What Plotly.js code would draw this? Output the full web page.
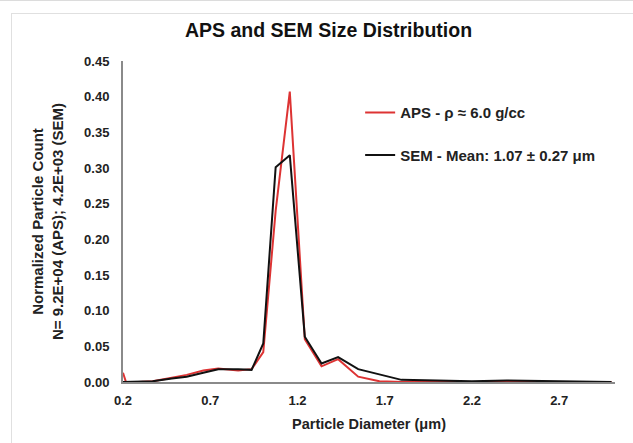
<!DOCTYPE html>
<html>
<head>
<meta charset="utf-8">
<script src="https://cdn.plot.ly/plotly-3.0.1.min.js"></script>
<style>
  html, body { margin: 0; padding: 0; background: #fff; }
  #wrap { position: relative; width: 633px; height: 443px; overflow: hidden; }
  #chart { position: absolute; left: 0; top: 0; width: 633px; height: 443px; }
  .frameTop { position: absolute; left: 0; top: 0; width: 633px; height: 1px; background: #dcdcdc; pointer-events: none; }
  .frameInner { position: absolute; left: 11px; top: 13px; width: 640px; height: 440px; border-left: 1px solid #e0e0e0; border-top: 1px solid #e0e0e0; pointer-events: none; }
</style>
</head>
<body>
<div id="wrap">
  <div id="chart"></div>
  <div class="frameTop"></div>
  <div class="frameInner"></div>
</div>
<script>
// Data
const semX = [0.2, 0.29, 0.37, 0.48, 0.565, 0.66, 0.746, 0.86, 0.937, 1.004, 1.075, 1.156, 1.242, 1.338, 1.433, 1.548, 1.796, 2.0, 2.2, 2.4, 2.6, 2.8, 3.0];
const semY = [0.0, 0.0, 0.001, 0.005, 0.0075, 0.013, 0.018, 0.018, 0.017, 0.054, 0.301, 0.318, 0.0635, 0.026, 0.035, 0.018, 0.003, 0.002, 0.001, 0.002, 0.001, 0.001, 0.0];

const apsX = [0.2, 0.217, 0.29, 0.37, 0.48, 0.565, 0.66, 0.746, 0.86, 0.937, 1.004, 1.075, 1.156, 1.242, 1.338, 1.433, 1.548, 1.67, 1.8, 2.0, 2.2, 2.4, 2.6, 2.8, 3.0];
const apsY = [0.013, 0.0, 0.0, 0.001, 0.006, 0.01, 0.016, 0.019, 0.016, 0.018, 0.042, 0.24, 0.407, 0.06, 0.022, 0.032, 0.0075, 0.001, 0.0, 0.0, 0.0, 0.0, 0.0, 0.0, 0.0];

const xTicks = [0.2, 0.7, 1.2, 1.7, 2.2, 2.7];
const yTicks = [0, 0.05, 0.1, 0.15, 0.2, 0.25, 0.3, 0.35, 0.4, 0.45];

const apsName = "APS - ρ ≈ 6.0 g/cc";
const semName = "SEM - Mean: 1.07 ± 0.27 μm";

const fontFam = "Liberation Sans, Arial, sans-serif";

const traces = [
  { x: apsX, y: apsY, type: "scatter", mode: "lines", name: apsName, legendgroup: "a",
    line: { color: "#dd3333", width: 2 } },
  { x: semX, y: semY, type: "scatter", mode: "lines", name: semName, legendgroup: "b",
    line: { color: "#111111", width: 2 } }
];

const layout = {
  width: 633, height: 443,
  margin: { l: 123, r: 18, t: 61, b: 61 },
  paper_bgcolor: "#ffffff", plot_bgcolor: "#ffffff",
  font: { family: fontFam, color: "#222" },
  title: {
    text: "APS and SEM Size Distribution",
    font: { family: fontFam, size: 19.5, weight: "bold", color: "#111" },
    x: 0.519, xref: "container", xanchor: "center",
    y: 36, yref: "container", yanchor: "middle"
  },
  xaxis: {
    range: [0.2, 3.02], tickvals: xTicks, ticktext: xTicks.map(v => v.toFixed(1)),
    showgrid: false, zeroline: false, showline: true, linecolor: "#8a8a8a", linewidth: 2,
    ticks: "", ticklabelstandoff: 5,
    tickfont: { family: fontFam, size: 13, weight: "bold", color: "#222" },
    title: { text: "Particle Diameter (μm)", standoff: 12,
      font: { family: fontFam, size: 14.5, weight: "bold", color: "#222" } }
  },
  yaxis: {
    range: [0, 0.45], tickvals: yTicks, ticktext: yTicks.map(v => v.toFixed(2)),
    showgrid: false, zeroline: false, showline: true, linecolor: "#8a8a8a", linewidth: 2,
    ticks: "", ticklabelstandoff: 9,
    tickfont: { family: fontFam, size: 13, weight: "bold", color: "#222" },
    title: { text: "Normalized Particle Count<br>N= 9.2E+04 (APS); 4.2E+03 (SEM)", standoff: 17,
      font: { family: fontFam, size: 15, weight: "bold", color: "#222" } }
  },
  showlegend: true,
  legend: {
    x: 0.482, y: 0.89, xanchor: "left", yanchor: "top",
    traceorder: "grouped", tracegroupgap: 20,
    bgcolor: "rgba(0,0,0,0)",
    font: { family: fontFam, size: 15, weight: "bold", color: "#222" }
  }
};

Plotly.newPlot("chart", traces, layout, { displayModeBar: false, staticPlot: true });
</script>
</body>
</html>
